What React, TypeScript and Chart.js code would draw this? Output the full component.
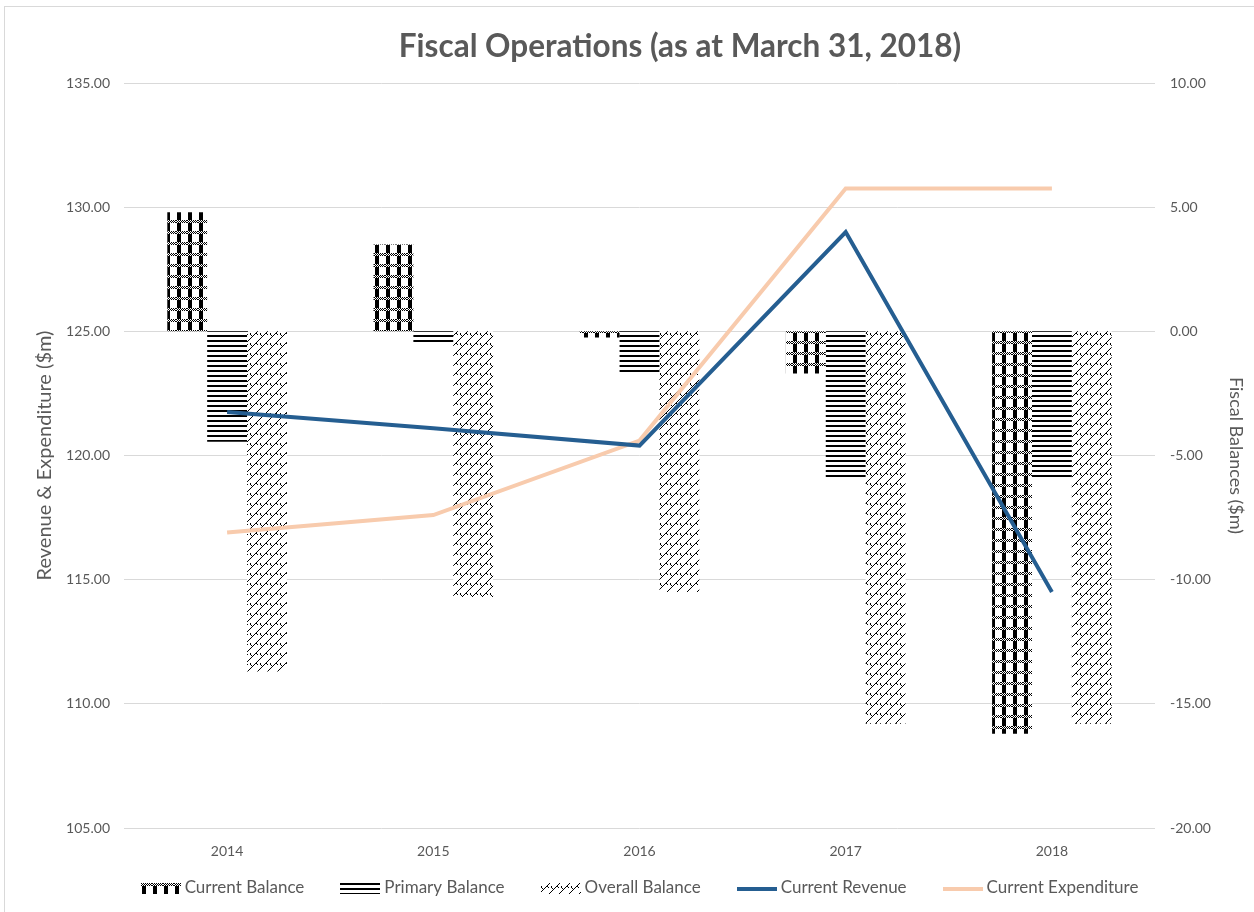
import React, { useEffect, useRef } from 'react';
import { Chart, registerables } from 'chart.js';

Chart.register(...registerables);

const years = ['2014', '2015', '2016', '2017', '2018'];
const currentBalance = [4.8, 3.5, -0.25, -1.7, -16.2];
const primaryBalance = [-4.45, -0.55, -1.65, -5.9, -5.9];
const overallBalance = [-13.7, -10.7, -10.5, -15.8, -15.8];
const currentRevenue = [121.75, 121.1, 120.4, 129.0, 114.5];
const currentExpenditure = [116.9, 117.6, 120.6, 130.75, 130.75];

const leftMin = 105;
const leftMax = 135;
const rightMin = -20;
const rightMax = 10;
const tickStep = 5;

const chartTitle = 'Fiscal Operations (as at March 31, 2018)';
const leftAxisTitle = 'Revenue & Expenditure ($m)';
const rightAxisTitle = 'Fiscal Balances ($m)';

const TEXT = '#595959';
const FONT = 'Lato';

function makeTile(w: number, h: number, draw: (px: (x: number, y: number) => void) => void) {
  const c = document.createElement('canvas');
  c.width = w;
  c.height = h;
  const ctx = c.getContext('2d')!;
  ctx.fillStyle = '#ffffff';
  ctx.fillRect(0, 0, w, h);
  ctx.fillStyle = '#000000';
  draw((x, y) => ctx.fillRect(((x % w) + w) % w, ((y % h) + h) % h, 1, 1));
  return c;
}

function buildPatterns() {
  const cb = document.createElement('canvas');
  cb.width = 11; cb.height = 11;
  const cctx = cb.getContext('2d')!;
  cctx.fillStyle = '#fff'; cctx.fillRect(0, 0, 11, 11);
  cctx.fillStyle = '#000';
  cctx.fillRect(1, 0, 4, 11);
  for (let y = 0; y < 3; y++) {
    for (let x = 0; x < 11; x++) {
      cctx.fillStyle = (x + y) % 2 === 0 ? '#000' : '#fff';
      cctx.fillRect(x, y, 1, 1);
    }
  }
  const pb = makeTile(4, 5, (px) => {
    for (let x = 0; x < 4; x++) { px(x, 0); px(x, 1); }
  });
  const ob = makeTile(10, 10, (px) => {
    for (let k = 0; k < 10; k++) px(3 + k, 5 - k);
    px(0, 3); px(0, 4); px(1, 5); px(2, 6);
    px(6, 3); px(7, 4);
  });
  return [cb, pb, ob];
}

export default function App() {
  const ref = useRef<HTMLCanvasElement>(null);

  useEffect(() => {
    const canvas = ref.current!;
    const ctx = canvas.getContext('2d')!;
    const tiles = buildPatterns();
    const pats = tiles.map((t) => ctx.createPattern(t, 'repeat')!);

    const swatch = (i: number) => {
      const c = document.createElement('canvas');
      c.width = 40; c.height = 11;
      const sc = c.getContext('2d')!;
      sc.fillStyle = sc.createPattern(tiles[i], 'repeat')!;
      sc.fillRect(0, 0, 40, 11);
      return c;
    };
    const lineSwatch = (color: string) => {
      const c = document.createElement('canvas');
      c.width = 40; c.height = 11;
      const sc = c.getContext('2d')!;
      sc.fillStyle = color;
      sc.fillRect(0, 4, 40, 4);
      return c;
    };

    const revColor = '#255e91';
    const expColor = '#f8cbad';

    const legendItems = [
      { label: 'Current Balance', sw: swatch(0) },
      { label: 'Primary Balance', sw: swatch(1) },
      { label: 'Overall Balance', sw: swatch(2) },
      { label: 'Current Revenue', sw: lineSwatch(revColor) },
      { label: 'Current Expenditure', sw: lineSwatch(expColor) },
    ];

    const decorPlugin = {
      id: 'decor',
      afterDraw(chart: any) {
        const c = chart.ctx as CanvasRenderingContext2D;
        const area = chart.chartArea;
        c.save();
        // title
        c.font = `bold 31.5px ${FONT}`;
        c.fillStyle = TEXT;
        c.textAlign = 'center';
        c.textBaseline = 'middle';
        c.fillText(chartTitle, 680, 47);
        // legend
        c.font = `17px ${FONT}`;
        c.textAlign = 'left';
        const swW = 40, gapText = 4, gapItem = 36;
        const widths = legendItems.map((it) => swW + gapText + c.measureText(it.label).width);
        const total = widths.reduce((a, b) => a + b, 0) + gapItem * (legendItems.length - 1);
        let x = (area.left + area.right) / 2 - total / 2;
        const y = chart.height - 24;
        legendItems.forEach((it, i) => {
          c.drawImage(it.sw, Math.round(x), Math.round(y - 5.5));
          c.fillText(it.label, x + swW + gapText, y);
          x += widths[i] + gapItem;
        });
        c.restore();
      },
    };

    const tickFont = { family: FONT, size: 14 };
    const fmt = (v: any) => Number(v).toFixed(2);

    const chart = new Chart(ctx, {
      type: 'bar',
      data: {
        labels: years,
        datasets: [
          { type: 'bar', label: 'Current Balance', data: currentBalance, yAxisID: 'y1', backgroundColor: pats[0], borderWidth: 0, order: 1 },
          { type: 'bar', label: 'Primary Balance', data: primaryBalance, yAxisID: 'y1', backgroundColor: pats[1], borderWidth: 0, order: 1 },
          { type: 'bar', label: 'Overall Balance', data: overallBalance, yAxisID: 'y1', backgroundColor: pats[2], borderWidth: 0, order: 1 },
          { type: 'line', label: 'Current Revenue', data: currentRevenue, yAxisID: 'y', borderColor: revColor, backgroundColor: revColor, borderWidth: 4, pointRadius: 0, tension: 0, order: 0 },
          { type: 'line', label: 'Current Expenditure', data: currentExpenditure, yAxisID: 'y', borderColor: expColor, backgroundColor: expColor, borderWidth: 4, pointRadius: 0, tension: 0, order: 0 },
        ] as any,
      },
      options: {
        animation: false,
        responsive: false,
        maintainAspectRatio: false,
        layout: { padding: { top: 83, left: 0, right: 0, bottom: 44 } },
        datasets: { bar: { categoryPercentage: 0.58, barPercentage: 1.0 } } as any,
        plugins: {
          legend: { display: false },
          tooltip: { enabled: false },
          title: { display: false },
        },
        scales: {
          x: {
            grid: { display: false },
            border: { display: false },
            ticks: { font: tickFont, color: TEXT, padding: 7 },
            afterFit: (s: any) => { s.height = 40; },
          },
          y: {
            position: 'left',
            min: leftMin,
            max: leftMax,
            ticks: { stepSize: tickStep, callback: fmt, font: tickFont, color: TEXT, padding: 14 },
            grid: { color: '#d9d9d9', drawTicks: false, lineWidth: 1 },
            border: { display: false },
            title: { display: true, text: leftAxisTitle, color: TEXT, font: { family: FONT, size: 20 }, padding: { top: 33, bottom: 0 } },
            afterFit: (s: any) => { s.width = 124; },
          },
          y1: {
            position: 'right',
            min: rightMin,
            max: rightMax,
            ticks: { stepSize: tickStep, callback: fmt, font: tickFont, color: TEXT, padding: 15 },
            grid: { display: false, drawTicks: false },
            border: { display: false },
            title: { display: true, text: rightAxisTitle, color: TEXT, font: { family: FONT, size: 18 }, padding: { top: 7, bottom: 0 } },
            afterFit: (s: any) => { s.width = 99; },
          },
        },
      } as any,
      plugins: [decorPlugin],
    });
    return () => chart.destroy();
  }, []);

  return (
    <div style={{ position: 'fixed', left: 0, top: 0, width: 1254, height: 912, background: '#fff' }}>
      <div style={{ position: 'absolute', left: 4, top: 6, width: 1300, height: 1000, border: '1px solid #d9d9d9', boxSizing: 'border-box' }} />
      <canvas ref={ref} width={1254} height={912} style={{ position: 'absolute', left: 0, top: 0, width: 1254, height: 912 }} />
    </div>
  );
}
